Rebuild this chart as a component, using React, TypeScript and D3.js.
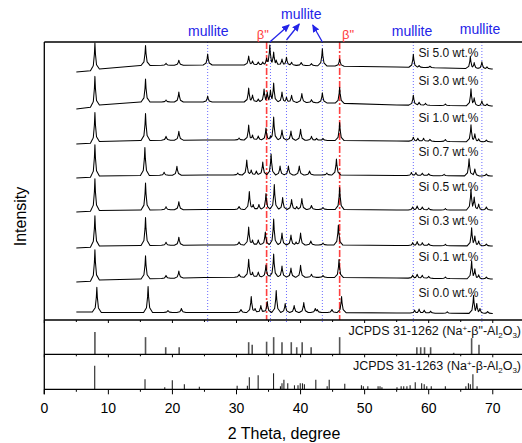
import React from 'react';
import * as d3 from 'd3';

// XRD patterns of the Si-doped samples, stacked, plus two JCPDS stick patterns
const W = 522, H = 443;
const FONT = "Arial, 'Liberation Sans', sans-serif";

const samples = ['Si 5.0 wt.%', 'Si 3.0 wt.%', 'Si 1.0 wt.%', 'Si 0.7 wt.%', 'Si 0.5 wt.%', 'Si 0.3 wt.%', 'Si 0.1 wt.%', 'Si 0.0 wt.%'];

// background level of each trace (stacked units) at these 2-theta knots
const bgAngles = [5, 7.6, 8.6, 15, 25, 36, 45, 55, 70];
const backgrounds = [
  [248, 249.5, 251, 254.5, 255, 255, 254, 253, 251],
  [211, 213, 215, 218, 218, 218, 217, 215, 214],
  [176, 177, 178.5, 179.5, 180, 180, 179.5, 179, 178],
  [142, 143, 144, 144.5, 145, 145, 145, 144.5, 144],
  [108, 109, 109.5, 110, 110.5, 110.5, 110.5, 110, 110],
  [72, 73, 74, 74.5, 75, 75, 75, 74.5, 74],
  [38, 39, 40, 41, 42.5, 43, 42.5, 42, 41],
  [8, 8, 7.5, 7.5, 7.5, 7.5, 7.5, 7, 6.5],
];

// [2theta, peak height above background]
const peaks5_0 = [[7.9, 27], [15.8, 20], [19.0, 2], [21.0, 5], [25.5, 11], [31.9, 9], [32.5, 4], [33.4, 3], [34.1, 3], [34.7, 7], [35.2, 20], [35.8, 13], [36.2, 5], [37.1, 6], [37.8, 8], [38.6, 3], [40.1, 3], [41.7, 2], [43.4, 17], [46.1, 7], [57.6, 13], [58.5, 2], [60.2, 1.5], [66.5, 12], [67.1, 6], [68.3, 7], [69.1, 2]];
const peaks3_0 = [[7.9, 30], [15.8, 23], [19.0, 2], [21.0, 10], [25.5, 6], [31.9, 14], [32.5, 7], [33.4, 3], [34.3, 13], [34.8, 10], [35.3, 12], [35.8, 19], [37.1, 10], [37.8, 5], [38.6, 7], [40.2, 9], [41.7, 3], [43.4, 10], [46.1, 16], [57.6, 10], [58.5, 3], [59.5, 2], [62.6, 1.5], [66.6, 17], [67.1, 8], [68.3, 5], [69.1, 2]];
const peaks1_0 = [[7.9, 30], [15.8, 27], [19.0, 4], [21.0, 9], [30.4, 2], [31.9, 15], [32.5, 5], [33.4, 4], [34.6, 12], [35.3, 4], [35.8, 23], [37.1, 10], [38.5, 9], [40.0, 11], [41.7, 4], [42.5, 2], [43.5, 2], [46.1, 18], [57.6, 4], [58.3, 3], [59.2, 3], [60.2, 2], [62.6, 2], [66.6, 17], [67.2, 8], [67.8, 3], [69.0, 2]];
const peaks0_7 = [[7.9, 32], [15.7, 28], [18.7, 3], [20.7, 9], [30.2, 2], [31.6, 15], [32.3, 5], [33.1, 4], [34.1, 13], [35.4, 21], [36.8, 9], [38.1, 9], [39.8, 9], [41.4, 4], [44.1, 2], [45.6, 16], [57.3, 3], [58.0, 3], [59.0, 2.5], [60.0, 2], [62.4, 1.5], [66.3, 17], [67.2, 7], [69.0, 2]];
const peaks0_5 = [[7.9, 32], [15.8, 27], [19.0, 3], [21.0, 8], [30.4, 3], [32.0, 18], [32.6, 5], [33.5, 5], [34.6, 16], [35.9, 25], [37.2, 12], [38.6, 10], [39.4, 3], [40.2, 11], [41.7, 4], [43.5, 2], [46.1, 22], [57.5, 3], [58.2, 4], [59.0, 3], [60.0, 2], [62.6, 1.5], [66.6, 21], [67.1, 13], [67.8, 6], [69.0, 3]];
const peaks0_3 = [[7.9, 31], [15.8, 28], [19.0, 3], [21.0, 8], [30.4, 3], [31.9, 18], [32.5, 5], [33.4, 5], [34.5, 13], [35.8, 26], [37.1, 12], [38.5, 10], [39.3, 3], [40.0, 12], [41.6, 4], [43.5, 2], [45.9, 20], [57.5, 3], [58.2, 4], [59.0, 3], [60.0, 2], [62.6, 1.5], [66.7, 18], [67.2, 10], [67.8, 5], [69.0, 2]];
const peaks0_1 = [[7.9, 31], [15.8, 23], [19.0, 3], [21.0, 7], [30.4, 3], [31.9, 18], [32.5, 5], [33.4, 5], [34.6, 12], [35.8, 23], [37.1, 11], [38.5, 9], [40.0, 12], [41.7, 3], [43.5, 2], [46.0, 18], [57.5, 3], [58.2, 4], [59.0, 3], [60.0, 2], [62.6, 1.5], [66.7, 18], [67.2, 10], [67.8, 4], [69.0, 2]];
const peaks0_0 = [[8.2, 25], [16.2, 26], [19.3, 2], [21.4, 4], [30.7, 3], [32.3, 16], [32.9, 4], [33.8, 7], [34.8, 11], [36.2, 22], [37.6, 9], [39.0, 7], [40.5, 10], [42.3, 4], [42.6, 3], [44.9, 3], [46.4, 16], [57.8, 3], [58.5, 4], [59.3, 3], [60.3, 2], [62.9, 1.5], [67.0, 18], [67.5, 10], [68.0, 5], [69.2, 2]];
const peaks = [peaks5_0, peaks3_0, peaks1_0, peaks0_7, peaks0_5, peaks0_3, peaks0_1, peaks0_0];

// reference sticks [2theta, relative intensity]
const ref1262 = [[7.9, 22], [15.8, 17], [18.95, 7], [21.05, 7], [31.9, 12], [32.45, 9.5], [34.7, 12.5], [35.8, 17], [37.1, 12], [38.55, 12], [39.4, 7], [40.25, 12], [41.65, 7], [46.1, 17], [58.15, 7], [58.75, 7], [59.35, 7], [60.3, 7], [63.9, 1.5], [66.7, 16], [67.85, 9.5]];
const ref1263 = [[7.87, 23.5], [15.72, 10], [18.8, 2], [19.98, 9], [21.86, 5], [24.2, 2.5], [30.1, 3.5], [31.7, 3.5], [32.0, 12], [33.38, 14], [35.78, 16], [36.86, 3], [37.1, 6], [37.4, 9.5], [38.0, 6], [39.05, 4], [39.6, 4], [39.95, 6], [40.3, 6], [40.6, 5], [42.38, 9.5], [44.15, 3], [44.47, 9.5], [46.9, 5.5], [49.5, 4], [49.8, 3], [50.5, 3], [52.1, 3], [52.4, 3], [52.7, 2], [55.05, 2], [55.7, 3], [56.1, 3], [56.6, 3], [57.1, 4], [57.9, 7], [58.9, 6], [59.3, 5], [59.7, 3], [60.4, 3], [62.6, 3], [65.8, 3], [66.2, 6], [66.5, 5], [66.9, 15], [67.55, 3]];

const mulliteLines = [25.5, 35.3, 37.8, 43.4, 57.6, 68.3];
const betaLines = [34.7, 46.1];
const xTicks = [0, 10, 20, 30, 40, 50, 60, 70];
const xMinor = [5, 15, 25, 35, 45, 55, 65, 75];

// layout
const X0 = 44.3, X1 = 524.8;
const TOP = 42, MAIN_B = 320, MID_B = 354.3, BOT = 389.3;
const BLUE = '#2424e8', RED = '#ff4040';

const x = d3.scaleLinear().domain([0, 75]).range([X0, X1]);
const y = d3.scaleLinear().domain([0, 278]).range([MAIN_B, TOP]);
const yRef1 = d3.scaleLinear().domain([0, 34]).range([MID_B, MAIN_B]);
const yRef2 = d3.scaleLinear().domain([0, 35]).range([BOT, MID_B]);

// peak profile: narrow tip with a wider foot
const prof = [-0.7, -0.25, -0.08, 0, 0.08, 0.25, 0.7];
const shape = d3.scaleLinear().domain(prof).range([0, 0.18, 0.6, 1, 0.6, 0.18, 0]).clamp(true);
const line = d3.line<[number, number]>().x(d => x(d[0])).y(d => y(d[1]));

function tracePath(bg: number[], pk: number[][]) {
  const bgAt = d3.scaleLinear().domain(bgAngles).range(bg);
  const set = new Set<number>(bgAngles);
  pk.forEach(([p]) => prof.forEach(dx => set.add(+(p + dx).toFixed(3))));
  const xs = [...set].filter(v => v >= 5 && v <= 70).sort((a, b) => a - b);
  const pts: [number, number][] = xs.map(v => [v, bgAt(v) + (d3.max(pk, ([p, h]) => h * shape(v - p)) || 0)]);
  return line(pts) || '';
}

const labelY = [56.5, 85, 121.5, 156, 190.5, 225, 260.5, 297];

export default function App() {
  return (
    <svg width={W} height={H} style={{ position: 'absolute', left: 0, top: 0, background: '#fff' }} fontFamily={FONT}>
      <defs>
        <marker id="ah" markerUnits="userSpaceOnUse" markerWidth="8" markerHeight="7" refX="7" refY="3.5" orient="auto">
          <path d="M0,0 L8,3.5 L0,7 z" fill={BLUE} />
        </marker>
      </defs>

      {/* reference lines */}
      {mulliteLines.map(m => (
        <line key={'m' + m} x1={x(m)} x2={x(m)} y1={TOP} y2={MAIN_B + 2} stroke="#6a6aff" strokeWidth={1} strokeDasharray="1,2" />
      ))}
      {betaLines.map(b => (
        <line key={'b' + b} x1={x(b)} x2={x(b)} y1={TOP} y2={MAIN_B} stroke={RED} strokeWidth={1.6} strokeDasharray="7,2,2,2" />
      ))}

      {/* traces */}
      {peaks.map((pk, i) => (
        <path key={i} d={tracePath(backgrounds[i], pk)} fill="none" stroke="#000" strokeWidth={1.05} strokeLinejoin="round" />
      ))}
      {samples.map((s, i) => (
        <text key={s} x={418.5} y={labelY[i]} fontSize={12} fill="#111">{s}</text>
      ))}

      {/* stick patterns */}
      {ref1262.map(([p, h]) => (
        <line key={'r1' + p} x1={x(p)} x2={x(p)} y1={yRef1(0)} y2={yRef1(h)} stroke="#555" strokeWidth={1.6} />
      ))}
      {ref1263.map(([p, h]) => (
        <line key={'r2' + p} x1={x(p)} x2={x(p)} y1={yRef2(0)} y2={yRef2(h)} stroke="#222" strokeWidth={1.1} />
      ))}
      <text x={521} y={334.5} fontSize={12.5} textAnchor="end" fill="#111">
        JCPDS 31-1262 (Na<tspan dy={-4} fontSize={8}>+</tspan><tspan dy={4}>-β"-Al</tspan><tspan dy={3} fontSize={8}>2</tspan><tspan dy={-3}>O</tspan><tspan dy={3} fontSize={8}>3</tspan><tspan dy={-3}>)</tspan>
      </text>
      <text x={521} y={370} fontSize={12.5} textAnchor="end" fill="#111">
        JCPDS 31-1263 (Na<tspan dy={-4} fontSize={8}>+</tspan><tspan dy={4}>-β-Al</tspan><tspan dy={3} fontSize={8}>2</tspan><tspan dy={-3}>O</tspan><tspan dy={3} fontSize={8}>3</tspan><tspan dy={-3}>)</tspan>
      </text>

      {/* frame and panel dividers */}
      <g stroke="#000" strokeWidth={1.3}>
        <line x1={X0} x2={W} y1={TOP} y2={TOP} />
        <line x1={X0} x2={W} y1={MAIN_B} y2={MAIN_B} />
        <line x1={X0} x2={W} y1={MID_B} y2={MID_B} />
        <line x1={X0} x2={W} y1={BOT} y2={BOT} />
        <line x1={X0} x2={X0} y1={TOP} y2={BOT + 5} />
      </g>
      <g stroke="#000" strokeWidth={1}>
        {xTicks.map(t => (
          <g key={'t' + t}>
            <line x1={x(t)} x2={x(t)} y1={BOT} y2={BOT + 5} />
            <line x1={x(t)} x2={x(t)} y1={MAIN_B} y2={MAIN_B + 3} />
            <line x1={x(t)} x2={x(t)} y1={MID_B} y2={MID_B + 3} />
          </g>
        ))}
        {xMinor.map(t => (
          <g key={'n' + t}>
            <line x1={x(t)} x2={x(t)} y1={BOT} y2={BOT + 2.5} />
            <line x1={x(t)} x2={x(t)} y1={MAIN_B} y2={MAIN_B + 2} />
            <line x1={x(t)} x2={x(t)} y1={MID_B} y2={MID_B + 2} />
          </g>
        ))}
      </g>
      {xTicks.map(t => (
        <text key={'l' + t} x={x(t)} y={412.5} fontSize={14} textAnchor="middle" fill="#000">{t}</text>
      ))}
      <text x={284} y={439} fontSize={16} textAnchor="middle" fill="#000">2 Theta, degree</text>
      <text transform="translate(26,216.5) rotate(-90)" fontSize={16} textAnchor="middle" fill="#000">Intensity</text>

      {/* phase annotations */}
      {[[25.6, 35.5], [40.1, 18.5], [57.4, 35.7], [68.0, 34]].map(([a, ty]) => (
        <text key={'ml' + a} x={x(a)} y={ty} fontSize={14} textAnchor="middle" fill={BLUE}>mullite</text>
      ))}
      {[[35.2, 42, 38.2, 25], [37.8, 40, 39.8, 24], [43.4, 42, 41.9, 25]].map(([a1, y1, a2, y2]) => (
        <line key={'ar' + a1} x1={x(a1)} y1={y1} x2={x(a2)} y2={y2} stroke={BLUE} strokeWidth={1.3} markerEnd="url(#ah)" />
      ))}
      {[34.1, 47.4].map(a => (
        <text key={'be' + a} x={x(a)} y={39} fontSize={13} textAnchor="middle" fill={RED}>β"</text>
      ))}
    </svg>
  );
}
